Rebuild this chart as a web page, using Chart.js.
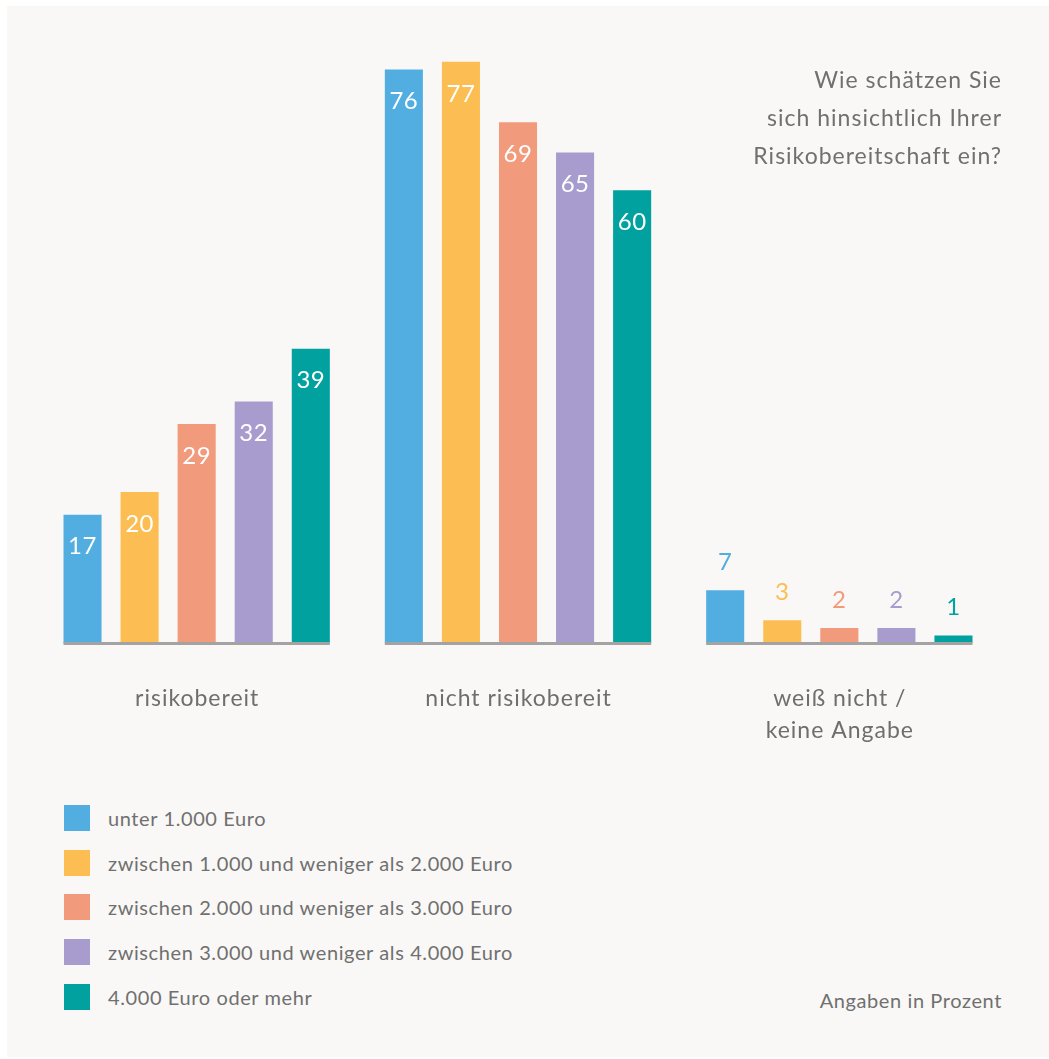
<!DOCTYPE html>
<html lang="de">
<head>
<meta charset="utf-8">
<title>Risikobereitschaft</title>
<script src="https://cdn.jsdelivr.net/npm/chart.js@4/dist/chart.umd.min.js"></script>
<style>
    html, body {
        margin: 0;
        padding: 0;
        background: #ffffff;
        font-family: Lato, "Open Sans", sans-serif;
        color: #707070;
    }
    #panel {
        position: absolute;
        left: 7px;
        top: 6px;
        width: 1042px;
        height: 1051px;
        background: #f9f8f6;
    }
    #wrap {
        position: absolute;
        left: 0;
        top: 0;
        width: 1049px;
        height: 760px;
    }
    #title {
        position: absolute;
        right: 47px;
        top: 60px;
        text-align: right;
        font-size: 23px;
        letter-spacing: 1px;
        line-height: 38px;
    }
    #legend {
        position: absolute;
        left: 64px;
        top: 796px;
    }
    .row {
        display: flex;
        align-items: center;
        height: 44.6px;
        font-size: 20px;
        letter-spacing: 0.6px;
    }
    .box {
        width: 26px;
        height: 26px;
        margin-right: 18px;
    }
    #note {
        position: absolute;
        right: 47px;
        top: 988px;
        font-size: 20px;
        letter-spacing: 0.6px;
    }
</style>
</head>
<body>
<div id="panel"></div>
<div id="wrap"><canvas id="chart" width="1049" height="760"></canvas></div>
<div id="title">Wie schätzen Sie<br>sich hinsichtlich Ihrer<br>Risikobereitschaft ein?</div>
<div id="legend"></div>
<div id="note">Angaben in Prozent</div>
<script>
const categories = [['risikobereit'], ['nicht risikobereit'], ['weiß nicht /', 'keine Angabe']];
const incomeGroups = [
    'unter 1.000 Euro',
    'zwischen 1.000 und weniger als 2.000 Euro',
    'zwischen 2.000 und weniger als 3.000 Euro',
    'zwischen 3.000 und weniger als 4.000 Euro',
    '4.000 Euro oder mehr'
];
const under1000 = [17, 76, 7];
const from1000 = [20, 77, 3];
const from2000 = [29, 69, 2];
const from3000 = [32, 65, 2];
const over4000 = [39, 60, 1];
const colors = ['#52aee1', '#fcbe53', '#f29a7c', '#a79ccd', '#00a19e'];

const seriesValues = [under1000, from1000, from2000, from3000, over4000];

// legend in html
const legend = document.getElementById('legend');
incomeGroups.forEach((name, i) => {
    const row = document.createElement('div');
    row.className = 'row';
    row.innerHTML = '<div class="box" style="background:' + colors[i] + '"></div><span>' + name + '</span>';
    legend.appendChild(row);
});

// baselines under each group, category labels, value labels
const decorations = {
    id: 'decorations',
    afterDatasetsDraw(chart) {
        const ctx = chart.ctx;
        const x = chart.scales.x;
        const y = chart.scales.y;
        const base = y.getPixelForValue(0);
        const first = chart.getDatasetMeta(0);
        const last = chart.getDatasetMeta(seriesValues.length - 1);

        ctx.save();
        categories.forEach((lines, i) => {
            const left = first.data[i].x - first.data[i].width / 2;
            const right = last.data[i].x + last.data[i].width / 2;
            ctx.fillStyle = '#a3a3a3';
            ctx.fillRect(left, base - 1, right - left, 3);

            ctx.fillStyle = '#6e6e6e';
            ctx.font = '23px Lato';
            ctx.letterSpacing = '1px';
            ctx.textAlign = 'center';
            ctx.textBaseline = 'middle';
            lines.forEach((line, j) => {
                ctx.fillText(line, x.getPixelForValue(i) + 0.5, base + 56 + j * 32);
            });
        });

        ctx.font = '24px Lato';
        ctx.letterSpacing = '0.5px';
        ctx.textAlign = 'center';
        ctx.textBaseline = 'middle';
        chart.data.datasets.forEach((ds, d) => {
            chart.getDatasetMeta(d).data.forEach((bar, i) => {
                const v = ds.data[i];
                if (v >= 10) {
                    ctx.fillStyle = '#ffffff';
                    ctx.fillText(v, bar.x, bar.y + 32);
                } else {
                    ctx.fillStyle = colors[d];
                    ctx.fillText(v, bar.x, bar.y - 28);
                }
            });
        });
        ctx.restore();
    }
};

const chart = new Chart(document.getElementById('chart').getContext('2d'), {
    type: 'bar',
    data: {
        labels: categories,
        datasets: seriesValues.map((values, i) => ({
            label: incomeGroups[i],
            data: values,
            backgroundColor: colors[i],
            borderWidth: 0,
            barPercentage: 0.667,
            categoryPercentage: 0.888
        }))
    },
    options: {
        responsive: false,
        animation: false,
        layout: {
            padding: { left: 36, right: 49, top: 39.2, bottom: 117 }
        },
        plugins: {
            legend: { display: false },
            tooltip: { enabled: false }
        },
        scales: {
            x: { display: false },
            y: { display: false, min: 0, max: 80 }
        }
    },
    plugins: [decorations]
});
</script>
</body>
</html>
